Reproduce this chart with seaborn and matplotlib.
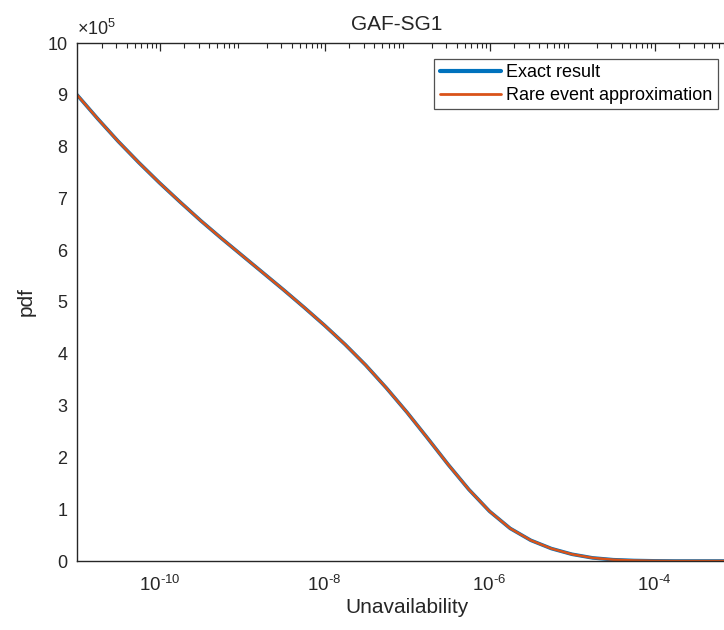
import numpy as np
import pandas as pd
import matplotlib
matplotlib.use("Agg")
import matplotlib.pyplot as plt
import seaborn as sns
from matplotlib.ticker import LogLocator, NullFormatter, FuncFormatter

# ---- data ----
log_unavailability = [-11.0, -10.75, -10.5, -10.25, -10.0, -9.75, -9.5, -9.25, -9.0,
                      -8.75, -8.5, -8.25, -8.0, -7.75, -7.5, -7.25, -7.0, -6.75,
                      -6.5, -6.25, -6.0, -5.75, -5.5, -5.25, -5.0, -4.75, -4.5,
                      -4.25, -4.0, -3.75, -3.5, -3.0]
pdf_exact = [9.00e5, 8.54e5, 8.10e5, 7.69e5, 7.30e5, 6.93e5, 6.57e5, 6.23e5, 5.90e5,
             5.57e5, 5.24e5, 4.90e5, 4.55e5, 4.18e5, 3.78e5, 3.34e5, 2.87e5, 2.37e5,
             1.86e5, 1.38e5, 0.96e5, 0.63e5, 0.40e5, 0.24e5, 0.13e5, 0.06e5, 0.025e5,
             0.01e5, 0.003e5, 0.0, 0.0, 0.0]
pdf_rare = [9.00e5, 8.54e5, 8.10e5, 7.69e5, 7.30e5, 6.93e5, 6.57e5, 6.23e5, 5.90e5,
            5.57e5, 5.24e5, 4.90e5, 4.55e5, 4.18e5, 3.78e5, 3.34e5, 2.87e5, 2.37e5,
            1.86e5, 1.38e5, 0.96e5, 0.63e5, 0.40e5, 0.24e5, 0.13e5, 0.06e5, 0.025e5,
            0.01e5, 0.003e5, 0.0, 0.0, 0.0]
series_names = ["Exact result", "Rare event approximation"]
series_colors = ["#0072BD", "#D95319"]
title_text = "GAF-SG1"
x_label = "Unavailability"
y_label = "pdf"
y_tick_values = [0, 1, 2, 3, 4, 5, 6, 7, 8, 9, 10]
x_tick_values = [1e-10, 1e-8, 1e-6, 1e-4]

unav = [10.0 ** v for v in log_unavailability]
df = pd.concat([
    pd.DataFrame({"Unavailability": unav, "pdf": pdf_exact, "series": series_names[0]}),
    pd.DataFrame({"Unavailability": unav, "pdf": pdf_rare, "series": series_names[1]}),
])

sns.set_style("white")
plt.rcParams["font.family"] = ["Liberation Sans", "DejaVu Sans"]
plt.rcParams["mathtext.fontset"] = "custom"
plt.rcParams["mathtext.rm"] = "Liberation Sans"
plt.rcParams["mathtext.it"] = "Liberation Sans:italic"
plt.rcParams["mathtext.default"] = "regular"
plt.rcParams["axes.unicode_minus"] = False

fig = plt.figure(figsize=(7.24, 6.3), dpi=100)
ax = fig.add_axes([77 / 724, 69 / 630, 660 / 724, 518 / 630])

dark = "#262626"
sns.lineplot(data=df, x="Unavailability", y="pdf", hue="series",
             palette=dict(zip(series_names, series_colors)), ax=ax,
             estimator=None, sort=False, legend=False)
lines = ax.get_lines()
lines[0].set_linewidth(2.6)
lines[1].set_linewidth(1.8)
for ln in lines:
    ln.set_solid_joinstyle("round")

ax.set_xscale("log")
ax.set_xlim(1e-11, 1e-3)
ax.set_ylim(0, 10e5)
ax.set_yticks([v * 1e5 for v in y_tick_values])
ax.yaxis.set_major_formatter(FuncFormatter(lambda v, p: f"{v / 1e5:g}"))
ax.set_xticks(x_tick_values)
ax.xaxis.set_major_formatter(
    FuncFormatter(lambda v, p: "$10^{\u2010%d}$" % abs(round(np.log10(v)))))
ax.xaxis.set_minor_locator(LogLocator(base=10, subs=np.arange(2, 10), numticks=20))
ax.xaxis.set_minor_formatter(NullFormatter())

ax.text(0.0, 1.008, r"$\times10^{5}$", transform=ax.transAxes, ha="left", va="bottom",
        fontsize=13, color=dark)

for s in ax.spines.values():
    s.set_color(dark)
    s.set_linewidth(1.0)
ax.tick_params(which="both", direction="in", top=True, right=True, colors=dark,
               labelcolor=dark)
ax.tick_params(axis="y", labelsize=13)
ax.tick_params(axis="x", labelsize=13.5)
ax.tick_params(which="major", length=6, width=0.9)
ax.tick_params(which="minor", length=3.5, width=0.8)
ax.tick_params(axis="x", which="major", pad=10)
ax.tick_params(axis="y", which="major", pad=7)

ax.set_xlabel(x_label, fontsize=15, color=dark, labelpad=2)
ax.set_ylabel(y_label, fontsize=15, color=dark, labelpad=8)
ax.set_title(title_text, fontsize=15, color=dark, x=(397 - 77) / 660, pad=9)

handles = [plt.Line2D([], [], color=series_colors[0], lw=3.0),
           plt.Line2D([], [], color=series_colors[1], lw=2.0)]
leg = ax.legend(handles, series_names, loc="upper right",
                bbox_to_anchor=(718 / 724, 1 - 59 / 630), bbox_transform=fig.transFigure,
                borderaxespad=0, frameon=True, fancybox=False, fontsize=13,
                handlelength=3.4, handletextpad=0.3, borderpad=0.3, labelspacing=0.3)
leg.get_frame().set_edgecolor(dark)
leg.get_frame().set_linewidth(0.9)
for t in leg.get_texts():
    t.set_color("black")

fig.savefig("out.png", dpi=100)
